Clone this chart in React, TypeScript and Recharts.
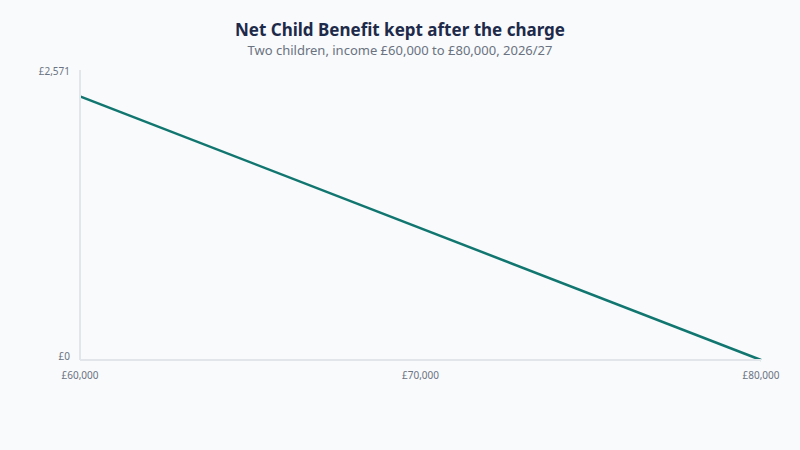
import { LineChart, Line, XAxis, YAxis } from "recharts";

const incomes = [60000, 80000];
const benefitKept = [2337, 0];
const xTicks = [60000, 70000, 80000];
const yTicks = [0, 2571];

const data = incomes.map((income, i) => ({ income, kept: benefitKept[i] }));

const fmt = (v: number) => `£${v.toLocaleString("en-GB")}`;

const YTick = (props: any) => {
  const { x, y, payload } = props;
  const shift = payload.value === 0 ? -4 : 1.5;
  return (
    <text x={x} y={y + shift} dy="0.355em" textAnchor="end" fill="#6b7280" fontSize={10}>
      {fmt(payload.value)}
    </text>
  );
};

export default function App() {
  return (
    <div
      style={{
        position: "absolute",
        left: 0,
        top: 0,
        width: 800,
        height: 450,
        background: "#f8fafc",
        fontFamily: "'Noto Sans', sans-serif",
      }}
    >
      <div
        style={{
          position: "absolute",
          top: 18,
          width: 800,
          textAlign: "center",
          fontSize: 17,
          fontWeight: 700,
          color: "#1e2a4a",
        }}
      >
        Net Child Benefit kept after the charge
      </div>
      <div
        style={{
          position: "absolute",
          top: 41,
          width: 800,
          textAlign: "center",
          fontSize: 13,
          color: "#6b7280",
        }}
      >
        Two children, income £60,000 to £80,000, 2026/27
      </div>
      <LineChart
        width={800}
        height={450}
        data={data}
        margin={{ top: 70, right: 39, bottom: 60, left: 0 }}
      >
        <XAxis
          dataKey="income"
          type="number"
          domain={[60000, 80000]}
          ticks={xTicks}
          tickFormatter={fmt}
          tickLine={false}
          tickSize={0}
          tickMargin={12}
          height={30}
          axisLine={{ stroke: "#e2e5ea", strokeWidth: 2 }}
          tick={{ fill: "#6b7280", fontSize: 10 }}
          interval={0}
        />
        <YAxis
          type="number"
          domain={[0, 2571]}
          ticks={yTicks}
          width={80}
          tickLine={false}
          tickSize={0}
          tickMargin={10}
          axisLine={{ stroke: "#e2e5ea", strokeWidth: 2 }}
          tick={<YTick />}
          interval={0}
        />
        <Line
          type="linear"
          dataKey="kept"
          stroke="#11766f"
          strokeWidth={2.5}
          dot={false}
          isAnimationActive={false}
        />
      </LineChart>
    </div>
  );
}
